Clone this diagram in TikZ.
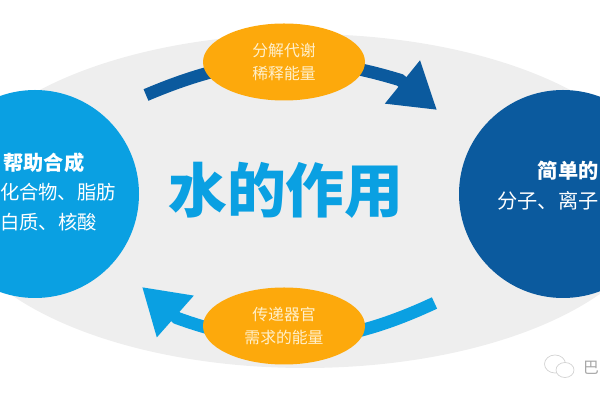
\documentclass[tikz,border=0pt]{standalone}
\usepackage{xcolor}
\usepackage{fontspec}
\setmainfont{Noto Sans CJK SC}
\usetikzlibrary{arrows.meta,shapes.geometric,positioning}

\definecolor{darkblue}{HTML}{0B5A9E}
\definecolor{lightblue}{HTML}{0AA0E2}
\definecolor{oval orange}{HTML}{FDA90C}
\definecolor{back gray}{HTML}{EEEEEE}
\definecolor{oval text}{HTML}{FFF0CC}

\begin{document}
\begin{tikzpicture}[on grid,font=\fontsize{11}{13}\selectfont,
  back node/.style={ellipse,fill=back gray,inner sep=0pt,minimum width=14.2cm,minimum height=6.68cm},
  main node/.style={circle,inner sep=0pt,minimum size=4.16cm},
  oval node/.style={ellipse,fill=oval orange,text=oval text,inner sep=0pt,minimum width=3.24cm,
    minimum height=1.54cm,align=center,font=\fontsize{9}{13}\selectfont},
  line label/.style={text=white,inner sep=0pt},
  flow arrow/.style={line width=0.25cm,-{Triangle[length=0.89cm,width=1.05cm]}}]

  \useasboundingbox (0,0) rectangle (12,8);
  \node[back node] (back) at (6.1,3.98) {};

  % arrows run behind the ovals
  \coordinate (top start) at (2.92,6.1);
  \coordinate (top bend) at (8.0,6.4);
  \coordinate (top end) at (8.74,5.8);
  \coordinate (low start) at (8.69,1.94);
  \coordinate (low bend) at (3.54,1.64);
  \coordinate (low end) at (2.84,2.26);
  \draw[flow arrow,darkblue] (top start) to[out=23,in=163] (top bend) -- (top end);
  \draw[flow arrow,lightblue] (low start) to[out=205,in=-20] (low bend) -- (low end);

  \node[main node,fill=lightblue] (left) [above left=0.14cm and 5.4cm of back] {};
  \node[main node,fill=darkblue] (right) [above right=0.14cm and 5.16cm of back] {};
  \node[oval node] (top) [above left=2.78cm and 0.42cm of back] {分解代谢\\稀释能量};
  \node[oval node] (low) [below left=2.5cm and 0.42cm of back] {传递器官\\需求的能量};

  \node[text=lightblue,inner sep=0pt,font=\fontsize{33.5}{36}\selectfont\bfseries] (title)
    [above left=0.22cm and 0.38cm of back] {水的作用};

  \node[line label,font=\fontsize{11.5}{13}\selectfont\bfseries] (L1) [above right=0.62cm and 0.18cm of left] {帮助合成};
  \node[line label] (L2) [below right=0.58cm and 0.28cm of L1] {化合物、脂肪};
  \node[line label] (L3) [below left=0.6cm and 0.19cm of L2] {白质、核酸};

  \node[line label,align=right,font=\fontsize{11.5}{17}\selectfont] (R1) [above left=0.16cm and 0.3cm of right]
    {\textbf{简单的}\\分子、离子};

  % watermark
  \node[text=gray!70,inner sep=0pt,font=\fontsize{9}{11}\selectfont] (mark) at (11.82,0.64) {巴};
  \node[ellipse,draw=gray!35,thin,minimum width=0.42cm,minimum height=0.36cm,inner sep=0pt] (bubble1) at (11.1,0.72) {};
  \node[ellipse,draw=gray!35,thin,fill=white,minimum width=0.36cm,minimum height=0.3cm,inner sep=0pt] (bubble2) [below right=0.12cm and 0.2cm of bubble1] {};
\end{tikzpicture}
\end{document}
